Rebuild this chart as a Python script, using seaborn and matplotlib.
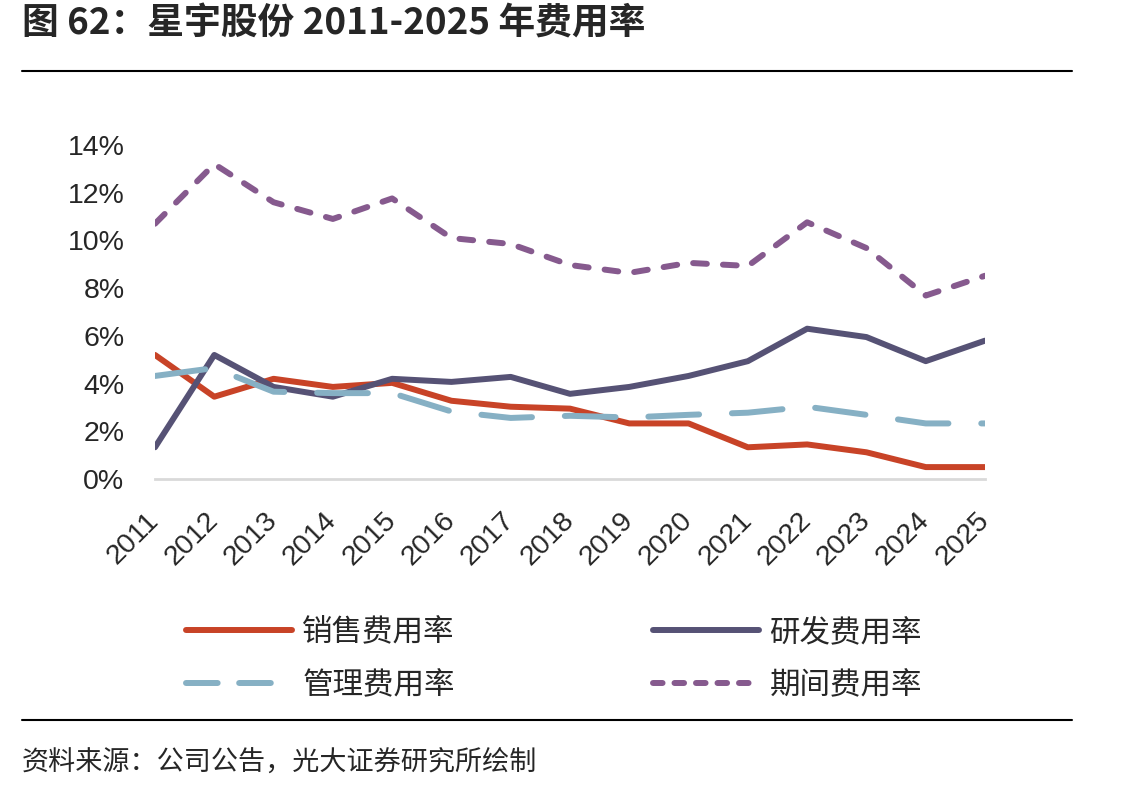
import matplotlib
matplotlib.use("Agg")
import matplotlib.pyplot as plt
from matplotlib.lines import Line2D
from matplotlib.ticker import FuncFormatter
import seaborn as sns
import pandas as pd

years = list(range(2011, 2026))
sales = [5.2, 3.45, 4.2, 3.86, 4.03, 3.28, 3.03, 2.95, 2.33, 2.33, 1.33, 1.45, 1.12, 0.5, 0.5]
rnd = [1.33, 5.2, 3.86, 3.45, 4.2, 4.07, 4.28, 3.57, 3.86, 4.32, 4.94, 6.3, 5.95, 4.94, 5.8]
admin = [4.32, 4.65, 3.66, 3.6, 3.6, 2.83, 2.56, 2.65, 2.58, 2.69, 2.78, 3.03, 2.69, 2.33, 2.33]
period = [10.7, 13.2, 11.6, 10.9, 11.76, 10.1, 9.85, 8.97, 8.64, 9.06, 8.93, 10.76, 9.68, 7.69, 8.52]
series_names = ["销售费用率", "研发费用率", "管理费用率", "期间费用率"]
y_ticks = [0, 2, 4, 6, 8, 10, 12, 14]

title = "图 62：星宇股份 2011-2025 年费用率"
source = "资料来源：公司公告，光大证券研究所绘制"

sns.set_style("white")
plt.rcParams["font.family"] = ["Liberation Sans", "Noto Sans CJK SC", "DejaVu Sans"]
plt.rcParams["lines.dash_capstyle"] = "round"
plt.rcParams["lines.solid_capstyle"] = "round"
plt.rcParams["lines.dash_joinstyle"] = "round"
plt.rcParams["lines.solid_joinstyle"] = "round"

df = pd.DataFrame({"year": years, series_names[0]: sales, series_names[1]: rnd,
                   series_names[2]: admin, series_names[3]: period})

fig = plt.figure(figsize=(11.43, 7.94), dpi=100)
ax = fig.add_axes([0.1356, 0.3967, 0.7262, 0.4207])

styles = {
    series_names[0]: dict(color="#C84327", dashes=None),
    series_names[1]: dict(color="#565275", dashes=None),
    series_names[2]: dict(color="#86B0C4", dashes=(8.5, 5.5)),
    series_names[3]: dict(color="#865A8E", dashes=(2.3, 2.7)),
}
lw = 4.3
for name in series_names:
    st = styles[name]
    sns.lineplot(data=df, x="year", y=name, ax=ax, color=st["color"], linewidth=lw,
                 legend=False)
    line = ax.get_lines()[-1]
    if st["dashes"] is not None:
        line.set_dashes(st["dashes"])

ax.set_xlim(years[0], years[-1])
ax.set_ylim(0, 14)
ax.set_xticks(years)
ax.set_xticklabels([str(y) for y in years])
ax.set_yticks(y_ticks)
ax.yaxis.set_major_formatter(FuncFormatter(lambda v, p: f"{v:.0f}%"))
ax.set_xlabel("")
ax.set_ylabel("")
for s in ["top", "right", "left"]:
    ax.spines[s].set_visible(False)
ax.spines["bottom"].set_color("#D9D9D9")
ax.spines["bottom"].set_linewidth(2)
ax.tick_params(axis="x", direction="in", length=7, width=1.8, color="#D9D9D9",
               labelsize=20.5, pad=27)
ax.tick_params(axis="y", length=0, labelsize=20.5, pad=22)
for lab in ax.get_xticklabels():
    lab.set_rotation(45)
    lab.set_ha("right")
    lab.set_va("center")
    lab.set_rotation_mode("anchor")
ax.grid(False)

order = [series_names[0], series_names[2], series_names[1], series_names[3]]
leg_handles = []
for name in order:
    st = styles[name]
    h = Line2D([0], [0], color=st["color"], linewidth=lw)
    if st["dashes"] is not None:
        if name == series_names[2]:
            h.set_dashes((5.3, 3.6))
        else:
            h.set_dashes((1.6, 2.0))
    leg_handles.append(h)
fig.legend(leg_handles, order, loc="center", bbox_to_anchor=(0.4847, 1 - 659 / 794),
           ncol=2, frameon=False, handlelength=3.45, handletextpad=0.35,
           columnspacing=6.5, labelspacing=0.72,
           prop={"family": ["Noto Sans CJK SC"], "size": 22})

fig.text(22 / 1143, 1 - 24 / 794, title, fontsize=26.5, fontweight="bold",
         family=["Noto Sans CJK SC", "DejaVu Sans"], va="center", ha="left")
fig.text(22 / 1143, 1 - 763 / 794, source, fontsize=19.5,
         family=["Noto Sans CJK SC", "DejaVu Sans"], va="center", ha="left")
fig.add_artist(Line2D([22 / 1143, 1072 / 1143], [1 - 71 / 794, 1 - 71 / 794],
                      transform=fig.transFigure, color="black", linewidth=1.5))
fig.add_artist(Line2D([22 / 1143, 1072 / 1143], [1 - 720 / 794, 1 - 720 / 794],
                      transform=fig.transFigure, color="black", linewidth=1.5))

fig.savefig("out.png", dpi=100, facecolor="white")
